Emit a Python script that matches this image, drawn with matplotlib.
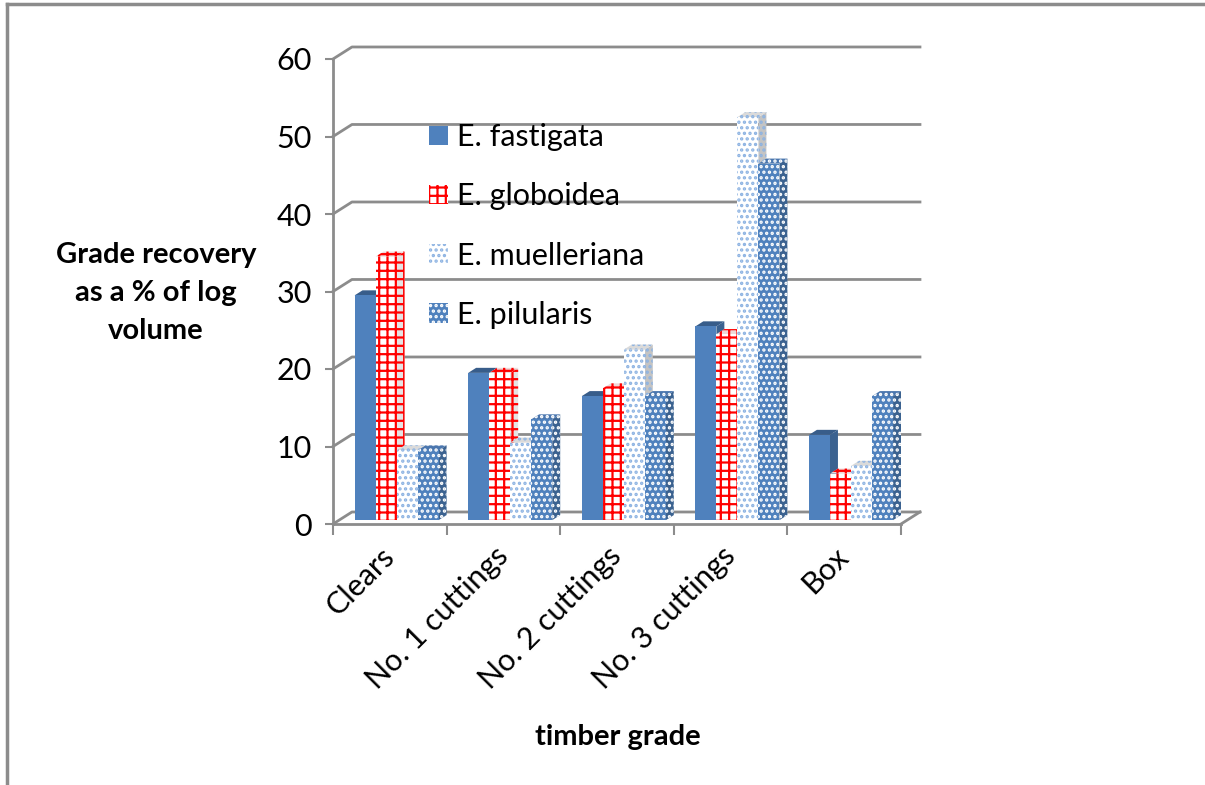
import matplotlib
matplotlib.use('Agg')
import matplotlib.pyplot as plt
from matplotlib.patches import Polygon
from matplotlib.lines import Line2D

categories = ['Clears', 'No. 1 cuttings', 'No. 2 cuttings', 'No. 3 cuttings', 'Box']
species = ['E. fastigata', 'E. globoidea', 'E. muelleriana', 'E. pilularis']
fastigata = [29, 19, 16, 25, 11]
globoidea = [34, 19, 17, 24, 6]
muelleriana = [9, 10, 22, 52, 7]
pilularis = [9, 13, 16, 46, 16]
y_ticks = [0, 10, 20, 30, 40, 50, 60]

series = [fastigata, globoidea, muelleriana, pilularis]

# face colours: (front, side, top, hatch, hatch colour)
styles = [
    ('#4F81BD', '#3B6290', '#385D8A', None, None),
    ('#FFFFFF', '#E4E4E4', '#EED8D8', '++', '#FF0000'),
    ('#FFFFFF', '#C4C4C4', '#DADADA', '...', '#8DB3E2'),
    ('#4F81BD', '#3B6290', '#4A76AE', '...', '#FFFFFF'),
]

plt.rcParams['font.family'] = ['Lato', 'DejaVu Sans']
plt.rcParams['hatch.linewidth'] = 1.6

GRID = '#8C8C8C'
BAR_W = 0.185
SHIFT = 0.06      # clusters sit half way back on the floor
LIFT = 0.5
DX, DY = 0.07, 0.65   # depth of a bar
WX, WY = 0.167, 1.55  # depth of the floor / back wall

fig = plt.figure(figsize=(12.05, 7.85), dpi=100)
ax = fig.add_axes([333 / 1205, 1 - 524 / 785, 568 / 1205, 465 / 785])
ax.set_xlim(-0.5, 4.5)
ax.set_ylim(0, 60)

# back wall gridlines with their diagonals to the front axis
for v in y_ticks:
    ax.plot([-0.5, -0.5 + WX, 4.5 + WX], [v, v + WY, v + WY],
            color=GRID, lw=2, clip_on=False, zorder=1)
ax.plot([4.5, 4.5 + WX], [0, WY], color=GRID, lw=2, clip_on=False, zorder=1)

z = 3
handles = []
for ci in range(len(categories)):
    for si, vals in enumerate(series):
        front, side, top, hatch, hcol = styles[si]
        x0 = ci - 2 * BAR_W + si * BAR_W + SHIFT
        x1 = x0 + BAR_W
        y0 = LIFT
        y1 = vals[ci] + LIFT
        ec = hcol if hatch else front
        side_poly = Polygon([(x1, y0), (x1 + DX, y0 + DY), (x1 + DX, y1 + DY), (x1, y1)],
                            closed=True, facecolor=side, edgecolor=ec, lw=0,
                            hatch=hatch, clip_on=False, zorder=z)
        top_poly = Polygon([(x0, y1), (x0 + DX, y1 + DY), (x1 + DX, y1 + DY), (x1, y1)],
                           closed=True, facecolor=top, edgecolor=ec, lw=0,
                           hatch=hatch, clip_on=False, zorder=z)
        ax.add_patch(side_poly)
        ax.add_patch(top_poly)
        bars = ax.bar(x0, vals[ci], width=BAR_W, bottom=LIFT, align='edge',
                      color=front, edgecolor=ec, lw=0, hatch=hatch,
                      clip_on=False, zorder=z + 1)
        if ci == 0:
            handles.append(bars[0])
        z += 2

# axes styling
for s in ['top', 'right']:
    ax.spines[s].set_visible(False)
for s in ['left', 'bottom']:
    ax.spines[s].set_color(GRID)
    ax.spines[s].set_linewidth(2)
    ax.spines[s].set_zorder(2)

ax.set_yticks(y_ticks)
ax.tick_params(axis='y', length=6, width=1.5, color=GRID, labelsize=22, pad=9)
ax.set_xticks(range(len(categories)))
ax.set_xticks([i - 0.5 for i in range(len(categories) + 1)], minor=True)
ax.tick_params(axis='x', which='major', length=0, pad=20)
ax.tick_params(axis='x', which='minor', length=8, width=1.5, color=GRID, direction='out')
ax.set_xticklabels(categories, rotation=45, ha='right', va='center',
                   rotation_mode='anchor', fontsize=22)

fig.text(156 / 1205, 1 - 293 / 785, 'Grade recovery\nas a % of log\nvolume',
         ha='center', va='center', fontsize=21, fontweight='bold', linespacing=1.55)
fig.text(618 / 1205, 1 - 737 / 785, 'timber grade',
         ha='center', va='center', fontsize=21, fontweight='bold')

ax.legend(handles, species, loc='upper left', bbox_to_anchor=(414 / 1205, 1 - 108 / 785),
          bbox_transform=fig.transFigure, frameon=False, fontsize=22,
          handlelength=0.6, handleheight=0.6, handletextpad=0.3, labelspacing=1.02,
          borderpad=0)

# outer chart border
fig.add_artist(Line2D([7 / 1205, 1], [1 - 4 / 785, 1 - 4 / 785], color=GRID, lw=2.5))
fig.add_artist(Line2D([7 / 1205, 7 / 1205], [0, 1 - 4 / 785], color=GRID, lw=2.5))

fig.savefig('out.png', dpi=100)
